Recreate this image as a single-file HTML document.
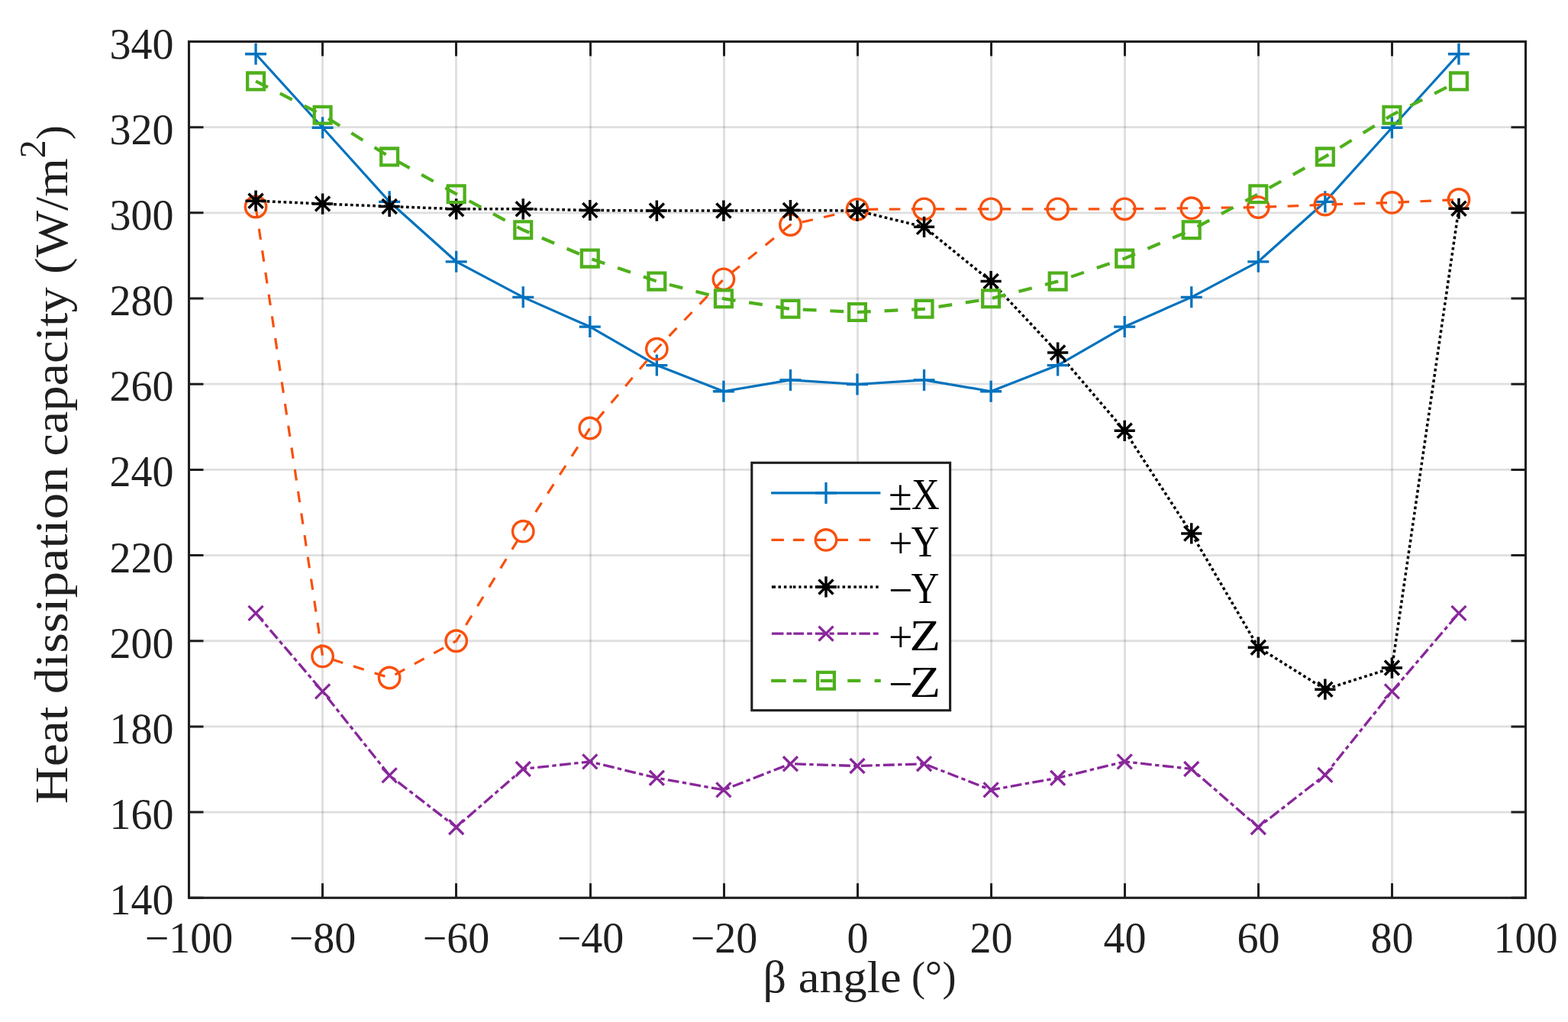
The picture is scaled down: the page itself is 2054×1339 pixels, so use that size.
<!DOCTYPE html>
<html><head><meta charset="utf-8"><title>Heat dissipation capacity vs beta angle</title>
<style>html,body{margin:0;padding:0;background:#fff;}body{width:2054px;height:1339px;overflow:hidden;}svg{display:block;}</style>
</head><body>
<svg width="2054" height="1339" viewBox="0 0 2054 1339">
<rect width="2054" height="1339" fill="#fff"/>
<path d="M422.5 54.5V1176.3M597.5 54.5V1176.3M773.5 54.5V1176.3M948.5 54.5V1176.3M1123.5 54.5V1176.3M1298.5 54.5V1176.3M1473.5 54.5V1176.3M1648.5 54.5V1176.3M1823.5 54.5V1176.3" stroke="#262626" stroke-opacity="0.15" stroke-width="2.8" fill="none"/>
<path d="M247.5 1064.12H1998.5M247.5 951.94H1998.5M247.5 839.76H1998.5M247.5 727.58H1998.5M247.5 615.4H1998.5M247.5 503.22H1998.5M247.5 391.04H1998.5M247.5 278.86H1998.5M247.5 166.68H1998.5" stroke="#262626" stroke-opacity="0.15" stroke-width="2.8" fill="none"/>
<g fill="none" stroke-linejoin="round">
<polyline points="335.05,70.77 422.6,167.24 510.15,264.28 597.7,342.8 685.25,389.36 772.8,428.06 860.35,478.54 947.9,512.76 1035.45,497.89 1123,503.5 1210.55,497.89 1298.1,512.76 1385.65,478.54 1473.2,428.06 1560.75,389.36 1648.3,342.8 1735.85,264.28 1823.4,167.24 1910.95,70.77" stroke="#0072BD" stroke-width="3.2"/>
<polyline points="335.05,271.01 422.6,859.95 510.15,888 597.7,839.76 685.25,696.17 772.8,560.99 860.35,457.23 947.9,365.8 1035.45,294.57 1123,274.37 1210.55,273.81 1298.1,273.81 1385.65,273.81 1473.2,273.81 1560.75,272.69 1648.3,271.57 1735.85,268.2 1823.4,265.4 1910.95,261.47" stroke="#F8500C" stroke-width="3.2" stroke-dasharray="14.5 14.49" stroke-linejoin="miter"/>
<polyline points="335.05,263.15 422.6,267.08 510.15,270.45 597.7,273.81 685.25,273.81 772.8,275.49 860.35,276.06 947.9,276.06 1035.45,275.49 1123,276.06 1210.55,297.37 1298.1,368.6 1385.65,461.99 1473.2,564.36 1560.75,698.97 1648.3,848.17 1735.85,903.14 1823.4,875.1 1910.95,273.25" stroke="#000000" stroke-width="3.5" stroke-dasharray="3.7 3.6"/>
<polyline points="335.05,803.3 422.6,905.95 510.15,1015.88 597.7,1083.75 685.25,1007.47 772.8,997.93 860.35,1019.25 947.9,1034.95 1035.45,1000.74 1123,1003.54 1210.55,1000.74 1298.1,1034.95 1385.65,1019.25 1473.2,997.93 1560.75,1007.47 1648.3,1083.75 1735.85,1015.32 1823.4,905.95 1910.95,803.3" stroke="#88279A" stroke-width="3.3" stroke-dasharray="14.8 4.4 5.4 4.37"/>
<polyline points="335.05,106.38 422.6,150.69 510.15,205.38 597.7,254.18 685.25,301.3 772.8,338.6 860.35,368.6 947.9,391.32 1035.45,404.78 1123,408.99 1210.55,404.78 1298.1,391.32 1385.65,368.6 1473.2,338.6 1560.75,301.3 1648.3,254.18 1735.85,205.38 1823.4,150.69 1910.95,106.38" stroke="#4EB01B" stroke-width="4.2" stroke-dasharray="17.8 17.84"/>
</g>
<path d="M321.05 70.77H349.05M335.05 56.77V84.77M408.6 167.24H436.6M422.6 153.24V181.24M496.15 264.28H524.15M510.15 250.28V278.28M583.7 342.8H611.7M597.7 328.8V356.8M671.25 389.36H699.25M685.25 375.36V403.36M758.8 428.06H786.8M772.8 414.06V442.06M846.35 478.54H874.35M860.35 464.54V492.54M933.9 512.76H961.9M947.9 498.76V526.76M1021.45 497.89H1049.45M1035.45 483.89V511.89M1109 503.5H1137M1123 489.5V517.5M1196.55 497.89H1224.55M1210.55 483.89V511.89M1284.1 512.76H1312.1M1298.1 498.76V526.76M1371.65 478.54H1399.65M1385.65 464.54V492.54M1459.2 428.06H1487.2M1473.2 414.06V442.06M1546.75 389.36H1574.75M1560.75 375.36V403.36M1634.3 342.8H1662.3M1648.3 328.8V356.8M1721.85 264.28H1749.85M1735.85 250.28V278.28M1809.4 167.24H1837.4M1823.4 153.24V181.24M1896.95 70.77H1924.95M1910.95 56.77V84.77" stroke="#0072BD" stroke-width="3.3" fill="none"/>
<g fill="none" stroke="#F8500C" stroke-width="3.4"><circle cx="335.05" cy="271.01" r="13.7"/><circle cx="422.6" cy="859.95" r="13.7"/><circle cx="510.15" cy="888" r="13.7"/><circle cx="597.7" cy="839.76" r="13.7"/><circle cx="685.25" cy="696.17" r="13.7"/><circle cx="772.8" cy="560.99" r="13.7"/><circle cx="860.35" cy="457.23" r="13.7"/><circle cx="947.9" cy="365.8" r="13.7"/><circle cx="1035.45" cy="294.57" r="13.7"/><circle cx="1123" cy="274.37" r="13.7"/><circle cx="1210.55" cy="273.81" r="13.7"/><circle cx="1298.1" cy="273.81" r="13.7"/><circle cx="1385.65" cy="273.81" r="13.7"/><circle cx="1473.2" cy="273.81" r="13.7"/><circle cx="1560.75" cy="272.69" r="13.7"/><circle cx="1648.3" cy="271.57" r="13.7"/><circle cx="1735.85" cy="268.2" r="13.7"/><circle cx="1823.4" cy="265.4" r="13.7"/><circle cx="1910.95" cy="261.47" r="13.7"/></g>
<path d="M321.45 263.15H348.65M335.05 249.55V276.75M325.55 253.65L344.55 272.65M325.55 272.65L344.55 253.65M409 267.08H436.2M422.6 253.48V280.68M413.1 257.58L432.1 276.58M413.1 276.58L432.1 257.58M496.55 270.45H523.75M510.15 256.85V284.05M500.65 260.95L519.65 279.95M500.65 279.95L519.65 260.95M584.1 273.81H611.3M597.7 260.21V287.41M588.2 264.31L607.2 283.31M588.2 283.31L607.2 264.31M671.65 273.81H698.85M685.25 260.21V287.41M675.75 264.31L694.75 283.31M675.75 283.31L694.75 264.31M759.2 275.49H786.4M772.8 261.89V289.09M763.3 265.99L782.3 284.99M763.3 284.99L782.3 265.99M846.75 276.06H873.95M860.35 262.46V289.66M850.85 266.56L869.85 285.56M850.85 285.56L869.85 266.56M934.3 276.06H961.5M947.9 262.46V289.66M938.4 266.56L957.4 285.56M938.4 285.56L957.4 266.56M1021.85 275.49H1049.05M1035.45 261.89V289.09M1025.95 265.99L1044.95 284.99M1025.95 284.99L1044.95 265.99M1109.4 276.06H1136.6M1123 262.46V289.66M1113.5 266.56L1132.5 285.56M1113.5 285.56L1132.5 266.56M1196.95 297.37H1224.15M1210.55 283.77V310.97M1201.05 287.87L1220.05 306.87M1201.05 306.87L1220.05 287.87M1284.5 368.6H1311.7M1298.1 355V382.2M1288.6 359.1L1307.6 378.1M1288.6 378.1L1307.6 359.1M1372.05 461.99H1399.25M1385.65 448.39V475.59M1376.15 452.49L1395.15 471.49M1376.15 471.49L1395.15 452.49M1459.6 564.36H1486.8M1473.2 550.76V577.96M1463.7 554.86L1482.7 573.86M1463.7 573.86L1482.7 554.86M1547.15 698.97H1574.35M1560.75 685.37V712.57M1551.25 689.47L1570.25 708.47M1551.25 708.47L1570.25 689.47M1634.7 848.17H1661.9M1648.3 834.57V861.77M1638.8 838.67L1657.8 857.67M1638.8 857.67L1657.8 838.67M1722.25 903.14H1749.45M1735.85 889.54V916.74M1726.35 893.64L1745.35 912.64M1726.35 912.64L1745.35 893.64M1809.8 875.1H1837M1823.4 861.5V888.7M1813.9 865.6L1832.9 884.6M1813.9 884.6L1832.9 865.6M1897.35 273.25H1924.55M1910.95 259.65V286.85M1901.45 263.75L1920.45 282.75M1901.45 282.75L1920.45 263.75" stroke="#000000" stroke-width="3.5" fill="none"/>
<path d="M325.55 793.8L344.55 812.8M325.55 812.8L344.55 793.8M413.1 896.45L432.1 915.45M413.1 915.45L432.1 896.45M500.65 1006.38L519.65 1025.38M500.65 1025.38L519.65 1006.38M588.2 1074.25L607.2 1093.25M588.2 1093.25L607.2 1074.25M675.75 997.97L694.75 1016.97M675.75 1016.97L694.75 997.97M763.3 988.43L782.3 1007.43M763.3 1007.43L782.3 988.43M850.85 1009.75L869.85 1028.75M850.85 1028.75L869.85 1009.75M938.4 1025.45L957.4 1044.45M938.4 1044.45L957.4 1025.45M1025.95 991.24L1044.95 1010.24M1025.95 1010.24L1044.95 991.24M1113.5 994.04L1132.5 1013.04M1113.5 1013.04L1132.5 994.04M1201.05 991.24L1220.05 1010.24M1201.05 1010.24L1220.05 991.24M1288.6 1025.45L1307.6 1044.45M1288.6 1044.45L1307.6 1025.45M1376.15 1009.75L1395.15 1028.75M1376.15 1028.75L1395.15 1009.75M1463.7 988.43L1482.7 1007.43M1463.7 1007.43L1482.7 988.43M1551.25 997.97L1570.25 1016.97M1551.25 1016.97L1570.25 997.97M1638.8 1074.25L1657.8 1093.25M1638.8 1093.25L1657.8 1074.25M1726.35 1005.82L1745.35 1024.82M1726.35 1024.82L1745.35 1005.82M1813.9 896.45L1832.9 915.45M1813.9 915.45L1832.9 896.45M1901.45 793.8L1920.45 812.8M1901.45 812.8L1920.45 793.8" stroke="#88279A" stroke-width="3.3" fill="none"/>
<path d="M324.15 95.48H345.95V117.28H324.15ZM411.7 139.79H433.5V161.59H411.7ZM499.25 194.48H521.05V216.28H499.25ZM586.8 243.28H608.6V265.08H586.8ZM674.35 290.4H696.15V312.2H674.35ZM761.9 327.7H783.7V349.5H761.9ZM849.45 357.7H871.25V379.5H849.45ZM937 380.42H958.8V402.22H937ZM1024.55 393.88H1046.35V415.68H1024.55ZM1112.1 398.09H1133.9V419.89H1112.1ZM1199.65 393.88H1221.45V415.68H1199.65ZM1287.2 380.42H1309V402.22H1287.2ZM1374.75 357.7H1396.55V379.5H1374.75ZM1462.3 327.7H1484.1V349.5H1462.3ZM1549.85 290.4H1571.65V312.2H1549.85ZM1637.4 243.28H1659.2V265.08H1637.4ZM1724.95 194.48H1746.75V216.28H1724.95ZM1812.5 139.79H1834.3V161.59H1812.5ZM1900.05 95.48H1921.85V117.28H1900.05Z" stroke="#4EB01B" stroke-width="4.3" fill="none"/>
<path d="M247.5 1176.3V1157.3M247.5 54.5V73.5M422.5 1176.3V1157.3M422.5 54.5V73.5M597.5 1176.3V1157.3M597.5 54.5V73.5M773.5 1176.3V1157.3M773.5 54.5V73.5M948.5 1176.3V1157.3M948.5 54.5V73.5M1123.5 1176.3V1157.3M1123.5 54.5V73.5M1298.5 1176.3V1157.3M1298.5 54.5V73.5M1473.5 1176.3V1157.3M1473.5 54.5V73.5M1648.5 1176.3V1157.3M1648.5 54.5V73.5M1823.5 1176.3V1157.3M1823.5 54.5V73.5M1998.5 1176.3V1157.3M1998.5 54.5V73.5M247.5 1176.3H266.5M1998.5 1176.3H1979.5M247.5 1064.12H266.5M1998.5 1064.12H1979.5M247.5 951.94H266.5M1998.5 951.94H1979.5M247.5 839.76H266.5M1998.5 839.76H1979.5M247.5 727.58H266.5M1998.5 727.58H1979.5M247.5 615.4H266.5M1998.5 615.4H1979.5M247.5 503.22H266.5M1998.5 503.22H1979.5M247.5 391.04H266.5M1998.5 391.04H1979.5M247.5 278.86H266.5M1998.5 278.86H1979.5M247.5 166.68H266.5M1998.5 166.68H1979.5M247.5 54.5H266.5M1998.5 54.5H1979.5" stroke="#1f1f1f" stroke-width="3" fill="none"/>
<rect x="247.5" y="54.5" width="1751" height="1121.8" fill="none" stroke="#1f1f1f" stroke-width="3.1"/>
<g font-family='"Liberation Serif", "DejaVu Serif", serif' font-size="56" fill="#1f1f1f"><text x="227.5" y="1198.3" text-anchor="end">140</text><text x="227.5" y="1086.12" text-anchor="end">160</text><text x="227.5" y="973.94" text-anchor="end">180</text><text x="227.5" y="861.76" text-anchor="end">200</text><text x="227.5" y="749.58" text-anchor="end">220</text><text x="227.5" y="637.4" text-anchor="end">240</text><text x="227.5" y="525.22" text-anchor="end">260</text><text x="227.5" y="413.04" text-anchor="end">280</text><text x="227.5" y="300.86" text-anchor="end">300</text><text x="227.5" y="188.68" text-anchor="end">320</text><text x="227.5" y="76.5" text-anchor="end">340</text><text x="247.5" y="1248" text-anchor="middle">−100</text><text x="422.5" y="1248" text-anchor="middle">−80</text><text x="597.5" y="1248" text-anchor="middle">−60</text><text x="773.5" y="1248" text-anchor="middle">−40</text><text x="948.5" y="1248" text-anchor="middle">−20</text><text x="1123.5" y="1248" text-anchor="middle">0</text><text x="1298.5" y="1248" text-anchor="middle">20</text><text x="1473.5" y="1248" text-anchor="middle">40</text><text x="1648.5" y="1248" text-anchor="middle">60</text><text x="1823.5" y="1248" text-anchor="middle">80</text><text x="1998.5" y="1248" text-anchor="middle">100</text></g>
<g font-family='"Liberation Serif", "DejaVu Serif", serif' font-size="60" fill="#1f1f1f"><text x="999.6" y="1300">β</text><text x="1045.8" y="1300" textLength="134.9" lengthAdjust="spacingAndGlyphs">angle</text><text x="1193.9" y="1297.8" font-size="54.2">(</text><text x="1211.8" y="1298.4" font-size="56">°</text><text x="1234.5" y="1297.8" font-size="54.2">)</text></g>
<g transform="translate(88.3 1052.4) rotate(-90)" font-family='"Liberation Serif", "DejaVu Serif", serif' fill="#1f1f1f"><text x="-0.85" y="0" font-size="61.5" textLength="127.85" lengthAdjust="spacingAndGlyphs">Heat</text><text x="143.12" y="0" font-size="61.5" textLength="297.62" lengthAdjust="spacingAndGlyphs">dissipation</text><text x="454.67" y="0" font-size="61.5" textLength="221.59" lengthAdjust="spacingAndGlyphs">capacity</text><text x="693.44" y="0" font-size="61.5" textLength="151.78" lengthAdjust="spacingAndGlyphs">(W/m</text><text x="845.2" y="-29.8" font-size="48">2</text><text x="869.4" y="-1.5" font-size="56">)</text></g>
<rect x="984.8" y="606.3" width="259.8" height="324.4" fill="#fff" stroke="#1f1f1f" stroke-width="3.1"/>
<path d="M1010.1 645.9H1153.4" stroke="#0072BD" stroke-width="3.2" fill="none"/>
<path d="M1068 645.9H1096M1082 631.9V659.9" stroke="#0072BD" stroke-width="3.3" fill="none"/>
<path d="M1010.5 707.4H1026.9M1038.9 707.4H1053.6M1068 707.4H1082.2M1097 707.4H1111M1125.4 707.4H1140.2" stroke="#F8500C" stroke-width="3.2" fill="none"/>
<circle cx="1082.0" cy="707.4" r="13.7" fill="none" stroke="#F8500C" stroke-width="3.4"/>
<path d="M1010.9 768.9H1016M1019.5 768.9H1023M1026.9 768.9H1030.4M1034.3 768.9H1037.4M1038.9 768.9H1042.4M1046.3 768.9H1049.5M1053.3 768.9H1056.9M1060.7 768.9H1064.3M1067.8 768.9H1095.8M1097 768.9H1099.7M1103.6 768.9H1107.1M1110.6 768.9H1114.5M1118.4 768.9H1121.9M1125.4 768.9H1128.9M1132.4 768.9H1135.9M1139.8 768.9H1143.3M1147.2 768.9H1150.7" stroke="#000000" stroke-width="3.5" fill="none"/>
<path d="M1068.4 768.9H1095.6M1082 755.3V782.5M1072.5 759.4L1091.5 778.4M1072.5 778.4L1091.5 759.4" stroke="#000000" stroke-width="3.5" fill="none"/>
<path d="M1010.9 830.1H1026.5M1030.4 830.1H1037M1039.3 830.1H1053M1057.2 830.1H1063.9M1067.8 830.1H1082M1086.4 830.1H1092.7M1097 830.1H1111M1114.9 830.1H1121.5M1125.4 830.1H1139.8M1143.7 830.1H1150.7" stroke="#88279A" stroke-width="3.3" fill="none"/>
<path d="M1072.5 820.6L1091.5 839.6M1072.5 839.6L1091.5 820.6" stroke="#88279A" stroke-width="3.3" fill="none"/>
<path d="M1010.1 891.8H1029.6M1038.9 891.8H1056.5M1074.8 891.8H1090.7M1110.2 891.8H1127.3M1145.6 891.8H1153.8" stroke="#4EB01B" stroke-width="4.2" fill="none"/>
<path d="M1071.1 880.9H1092.9V902.7H1071.1Z" stroke="#4EB01B" stroke-width="4.3" fill="none"/>
<g font-family='"Liberation Serif", "DejaVu Serif", serif' font-size="56" fill="#000000"><text x="1164.1" y="668.4">±</text><text x="1193.9" y="667.4" textLength="36.8" lengthAdjust="spacingAndGlyphs">X</text><text x="1164.1" y="730.9">+</text><text x="1193.4" y="728.9" textLength="36.9" lengthAdjust="spacingAndGlyphs">Y</text><text x="1164.1" y="792.4">−</text><text x="1193.4" y="790.4" textLength="36.9" lengthAdjust="spacingAndGlyphs">Y</text><text x="1164.1" y="853.6">+</text><text x="1191.4" y="851.6" textLength="40.6" lengthAdjust="spacingAndGlyphs">Z</text><text x="1164.1" y="915.3">−</text><text x="1191.4" y="913.3" textLength="40.6" lengthAdjust="spacingAndGlyphs">Z</text></g>
</svg>
</body></html>
